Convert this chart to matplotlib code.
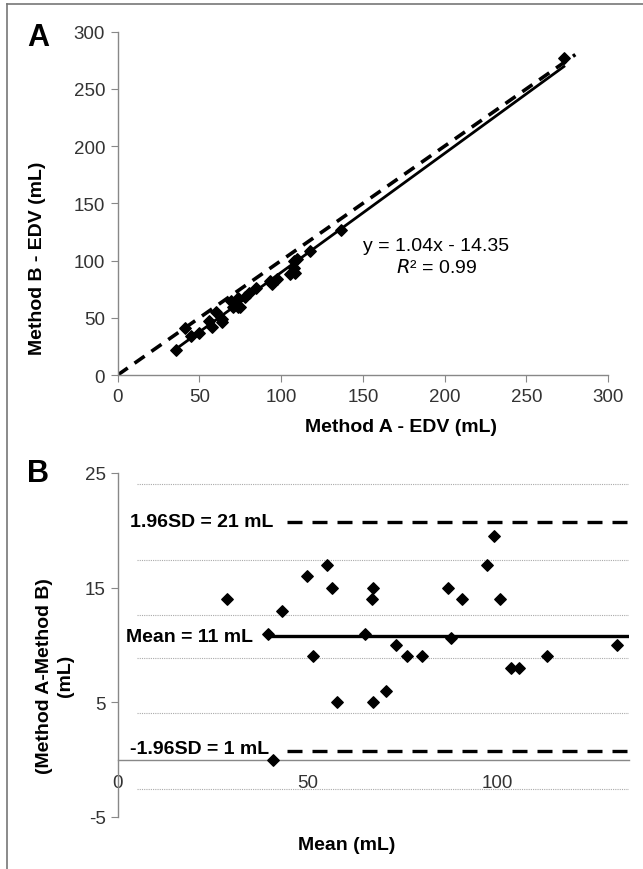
import numpy as np
import matplotlib
matplotlib.use('Agg')
import matplotlib.pyplot as plt
from matplotlib.lines import Line2D

plt.rcParams['font.family'] = ['Liberation Sans', 'DejaVu Sans']
plt.rcParams['axes.unicode_minus'] = False

# Panel A: Method A vs Method B EDV (mL)
edv_a = [35.8, 45.0, 40.9, 49.7, 57.7, 55.9, 63.6, 63.8, 60.3, 70.6, 73.8, 74.6, 69.6, 73.7,
         78.2, 80.6, 84.7, 94.5, 92.9, 97.6, 105.6, 108.7, 107.6, 107.6, 109.5, 117.6, 136.5, 273.0]
edv_b = [21.8, 34.0, 40.9, 36.7, 41.7, 46.9, 46.6, 48.8, 55.3, 59.6, 59.8, 59.6, 64.6, 67.7,
         68.2, 71.6, 75.7, 79.5, 82.3, 83.6, 88.6, 89.2, 93.6, 99.6, 101.5, 108.6, 126.5, 276.7]
fit_slope, fit_icpt = 1.04, -14.35

# Panel B: Bland-Altman
ba_mean = [28.8, 39.5, 40.9, 43.2, 49.7, 51.4, 55.1, 56.3, 57.8, 65.1, 66.8, 67.1, 67.1, 70.7,
           73.2, 76.1, 80.2, 87.0, 87.6, 90.6, 97.1, 98.9, 100.6, 103.6, 105.5, 113.1, 131.5]
ba_diff = [14.0, 11.0, 0.0, 13.0, 16.0, 9.0, 17.0, 15.0, 5.0, 11.0, 14.0, 15.0, 5.0, 6.0,
           10.0, 9.0, 9.0, 15.0, 10.6, 14.0, 17.0, 19.5, 14.0, 8.0, 8.0, 9.0, 10.0]
mean_diff = 10.76
upper_loa = 20.76
lower_loa = 0.78
grid_vals = [24.0, 17.45, 12.65, 8.87, 4.05, -2.55]

tick_col = '#333333'
spine_col = '#888888'

fig = plt.figure(figsize=(6.43, 8.70), dpi=100)

# frame lines on left/top of the figure
fig.add_artist(Line2D([7 / 643, 7 / 643], [0, 1 - 5 / 870], color='#777777', lw=1.2))
fig.add_artist(Line2D([7 / 643, 1], [1 - 5 / 870, 1 - 5 / 870], color='#777777', lw=1.2))

# ---------------- Panel A ----------------
axA = fig.add_axes([0.183, 0.5678, 0.7626, 0.3946])
axA.plot([0, 280], [0, 280], color='black', lw=2.6, dashes=(3.4, 2.3))
xf = np.array([min(edv_a), max(edv_a)])
axA.plot(xf, fit_slope * xf + fit_icpt, color='black', lw=2.0)
axA.scatter(edv_a, edv_b, marker='D', s=34, color='black', zorder=5)
axA.set_xlim(0, 300)
axA.set_ylim(0, 300)
axA.set_xticks(range(0, 301, 50))
axA.set_yticks(range(0, 301, 50))
for s in ['top', 'right']:
    axA.spines[s].set_visible(False)
for s in ['left', 'bottom']:
    axA.spines[s].set_color(spine_col)
    axA.spines[s].set_linewidth(1.0)
axA.tick_params(direction='out', length=5, color=spine_col, labelsize=13.5,
                labelcolor=tick_col, pad=4)
axA.set_xlabel('Method A - EDV (mL)', fontsize=14, fontweight='bold')
axA.xaxis.set_label_coords(0.577, -0.125)
axA.set_ylabel('Method B - EDV (mL)', fontsize=14, fontweight='bold')
axA.yaxis.set_label_coords(-0.146, 0.344)
axA.text(195, 113, 'y = 1.04x - 14.35', fontsize=14, ha='center', va='center', color='black')
axA.text(195, 94, r'$R$² = 0.99', fontsize=14, ha='center', va='center', color='black')
fig.text(38 / 643, 1 - 38 / 870, 'A', fontsize=22, fontweight='bold', ha='center', va='center')

# ---------------- Panel B ----------------
axB = fig.add_axes([0.183, 0.0598, 0.7955, 0.3954])
x_end = 134.6
axB.set_xlim(0, x_end)
axB.set_ylim(-5, 25)
for g in grid_vals:
    axB.plot([5, x_end], [g, g], color='#aaaaaa', lw=0.8, ls=(0, (1, 1)), zorder=1)
axB.plot([44.6, x_end], [upper_loa, upper_loa], color='black', lw=2.4, dashes=(4.5, 3))
axB.plot([44.6, x_end], [lower_loa, lower_loa], color='black', lw=2.4, dashes=(4.5, 3))
axB.plot([39.5, x_end], [mean_diff, mean_diff], color='black', lw=2.4)
axB.scatter(ba_mean, ba_diff, marker='D', s=34, color='black', zorder=5, clip_on=False)
axB.text(3.3, upper_loa, '1.96SD = 21 mL', fontsize=14, fontweight='bold', va='center')
axB.text(2.2, mean_diff, 'Mean = 11 mL', fontsize=14, fontweight='bold', va='center')
axB.text(3.3, lower_loa + 0.2, '-1.96SD = 1 mL', fontsize=14, fontweight='bold', va='center')
axB.set_yticks([-5, 5, 15, 25])
axB.set_xticks([0, 50, 100])
axB.spines['bottom'].set_position(('data', 0))
for s in ['top', 'right']:
    axB.spines[s].set_visible(False)
for s in ['left', 'bottom']:
    axB.spines[s].set_color(spine_col)
    axB.spines[s].set_linewidth(1.0)
axB.tick_params(axis='y', direction='out', length=5, color=spine_col, labelsize=13.5,
                labelcolor=tick_col)
axB.tick_params(axis='x', length=0, labelsize=13.5, labelcolor=tick_col, pad=10)
axB.set_ylabel('(Method A-Method B)\n(mL)', fontsize=14, fontweight='bold', linespacing=1.3)
axB.yaxis.set_label_coords(-0.086, 0.413)
fig.text(347 / 643, 1 - 846 / 870, 'Mean (mL)', fontsize=14, fontweight='bold',
         ha='center', va='center')
fig.text(38 / 643, 1 - 474 / 870, 'B', fontsize=22, fontweight='bold', ha='center', va='center')

fig.savefig('out.png', dpi=100)
